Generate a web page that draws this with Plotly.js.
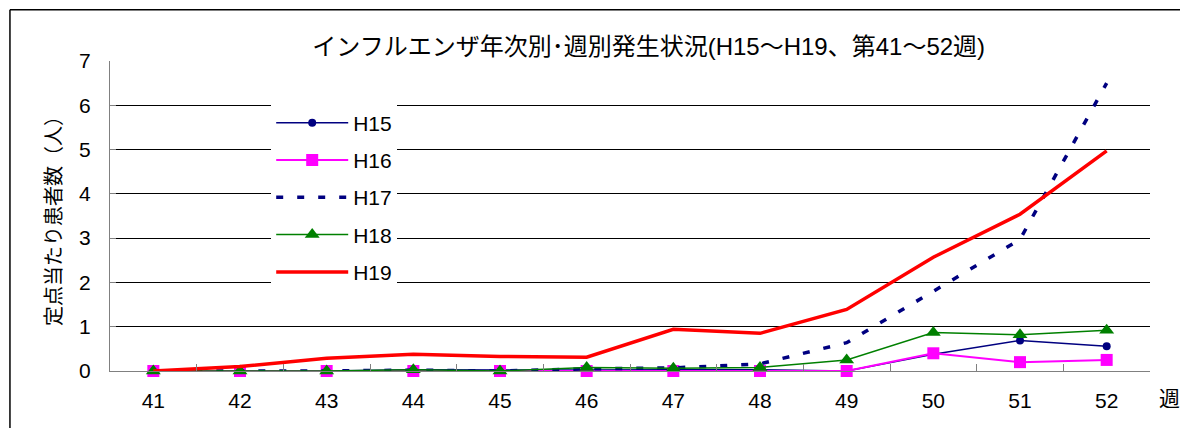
<!DOCTYPE html>
<html>
<head>
<meta charset="utf-8">
<script src="https://cdn.plot.ly/plotly-3.0.1.min.js"></script>
<style>html,body{margin:0;padding:0;background:#fff}#chart{width:1180px;height:428px}</style>
</head>
<body>
<div id="chart"></div>
<script>
const weeks = ['41','42','43','44','45','46','47','48','49','50','51','52'];
const h15 = [0, 0, 0, 0.03, 0.02, 0.02, 0.03, 0.03, 0, 0.38, 0.69, 0.56];
const h16 = [0, 0, 0, 0, 0, 0, 0, 0, 0, 0.40, 0.20, 0.25];
const h17 = [0, 0, 0, 0.02, 0, 0.05, 0.07, 0.16, 0.64, 1.80, 2.97, 6.50];
const h18 = [0, 0, 0, 0.03, 0, 0.08, 0.06, 0.08, 0.25, 0.87, 0.82, 0.92];
const h19 = [0, 0.10, 0.29, 0.38, 0.33, 0.31, 0.94, 0.85, 1.39, 2.57, 3.54, 4.97];
const yTicks = [0,1,2,3,4,5,6,7];
const gridVals = [1,2,3,4,5,6];

const FONT = 'Liberation Sans Narrow, Liberation Sans, Noto Sans CJK JP, sans-serif';

const traces = [
  {name:'H15', y:h15, mode:'lines+markers', line:{color:'#000080', width:1.5}, marker:{symbol:'circle', size:8, color:'#000080'}},
  {name:'H16', y:h16, mode:'lines+markers', line:{color:'#FF00FF', width:2}, marker:{symbol:'square', size:12, color:'#FF00FF'}},
  {name:'H17', y:h17, mode:'lines', line:{color:'#000080', width:3.5, dash:'7px,14px'}},
  {name:'H18', y:h18, mode:'lines+markers', line:{color:'#008000', width:1.5}, marker:{symbol:'triangle-up', size:13, color:'#008000'}},
  {name:'H19', y:h19, mode:'lines', line:{color:'#FF0000', width:3.5}}
].map(t => Object.assign({x:weeks, type:'scatter', legendgroup:t.name, cliponaxis:false}, t));

const layout = {
  width:1180, height:428,
  margin:{l:110, r:30, t:61, b:57},
  paper_bgcolor:'#fff', plot_bgcolor:'#fff',
  font:{family:FONT, color:'#000', size:21},
  title:{text:'インフルエンザ年次別･週別発生状況(H15～H19、第41～52週)', font:{size:24, family:FONT}, x:0.518, xref:'paper', y:0.89, yref:'container', xanchor:'center', yanchor:'middle'},
  showlegend:true,
  legend:{x:0.155, y:0.866, xanchor:'left', yanchor:'top', bgcolor:'#fff', borderwidth:0, font:{size:21, family:FONT}, tracegroupgap:7, itemwidth:72},
  xaxis:{type:'category', range:[-0.5, 11.5], tickson:'boundaries', ticks:'inside', ticklen:7, tickcolor:'#808080', showline:true, linecolor:'#808080', linewidth:1, showgrid:false, zeroline:false, ticklabelstandoff:11, tickfont:{size:21}, fixedrange:true},
  yaxis:{range:[0,7], tickvals:gridVals, showticklabels:false, ticks:'', showgrid:true, gridcolor:'#000', gridwidth:1, zeroline:false, showline:false, fixedrange:true},
  yaxis2:{range:[0,7], overlaying:'y', side:'left', tickvals:yTicks, ticktext:yTicks.map(String), ticks:'inside', ticklen:6, tickcolor:'#808080', showline:true, linecolor:'#808080', linewidth:1, showgrid:false, zeroline:false, ticklabelstandoff:14, tickfont:{size:21},
    title:{text:'定点当たり患者数（人）', font:{size:20}, standoff:12}},
  annotations:[{text:'週', xref:'paper', yref:'paper', x:1.007, y:-0.088, xanchor:'left', yanchor:'middle', showarrow:false, font:{size:21}}],
  shapes:[
    {type:'line', xref:'paper', yref:'paper', x0:-0.0962, x1:1.2, y0:1.165, y1:1.165, line:{color:'#000', width:1.5}},
    {type:'line', xref:'paper', yref:'paper', x0:-0.0962, x1:-0.0962, y0:-0.3, y1:1.165, line:{color:'#000', width:1.5}}
  ]
};
traces.push({x:weeks, y:weeks.map(()=>null), yaxis:'y2', type:'scatter', showlegend:false, hoverinfo:'skip'});
Plotly.newPlot('chart', traces, layout, {staticPlot:true});
</script>
</body>
</html>
